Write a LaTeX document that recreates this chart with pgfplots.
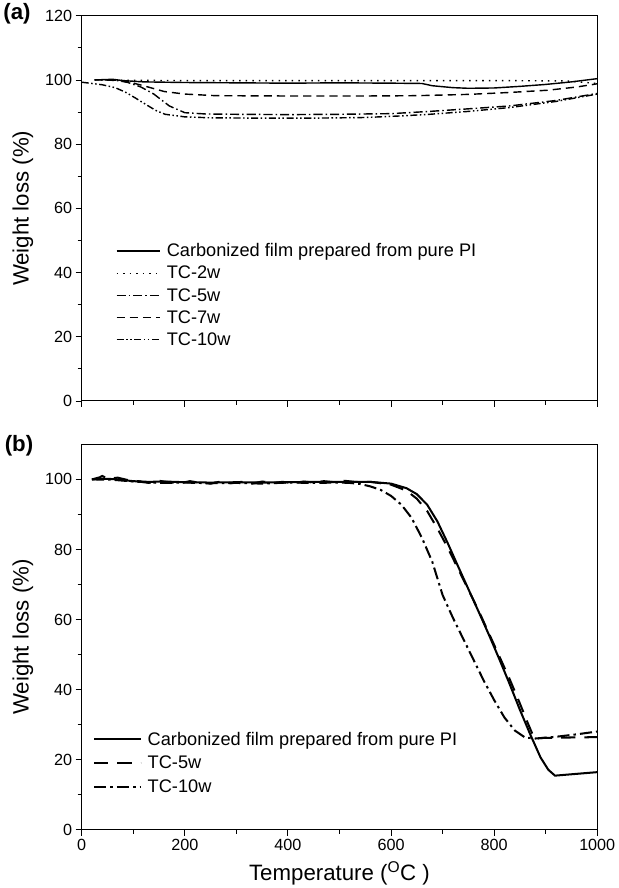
\documentclass[border=0pt]{standalone}
\usepackage{fontspec}
\setmainfont{Liberation Sans}
\usepackage{pgfplots}
\pgfplotsset{compat=1.18}

\pgfplotsset{
  tga/.style={
    scale only axis, width=510pt, height=381pt,
    xmin=0, xmax=1000,
    tick align=outside, xtick pos=bottom, ytick pos=left,
    minor x tick num=1, minor y tick num=1,
    major tick length=6pt, minor tick length=4pt,
    tick style={black, line width=0.8pt},
    axis line style={line width=1pt},
    /pgf/number format/assume math mode=true,
    /pgf/number format/1000 sep={},
    tick label style={font=\fontsize{16}{18}\selectfont},
    legend cell align=left,
    /tikz/every odd column/.append style={column sep=5pt},
    ylabel={Weight loss (\%)},
    ylabel style={at={(axis description cs:-0.114,0.5)}, anchor=center, font=\fontsize{22}{25}\selectfont},
  },
}

\begin{document}
\begin{tikzpicture}

% (a)
\begin{axis}[tga, at={(0,0)}, anchor=north west,
    ymin=0, ymax=120, ytick={0,20,...,120},
    xtick={0,200,...,1000}, xticklabels={},
    legend style={at={(axis cs:60,50)}, anchor=north west, draw=none, fill=none,
      font=\fontsize{18}{20}\selectfont, row sep=5.8pt,
      nodes={inner sep=1pt}},
    legend image code/.code={\draw[#1] (0pt,0pt) -- (43pt,0pt);},
  ]
  \addplot[black, line width=1.4pt] coordinates {
    (25,100) (60,100.2) (80,99.8) (120,99.4) (200,99.2) (300,99.1) (400,99.0) (500,99.1)
    (600,99.0) (660,98.9) (680,98.2) (720,97.6) (750,97.4) (800,97.5) (850,98.0)
    (900,98.6) (950,99.4) (1000,100.4)};
  \addlegendentry{Carbonized film prepared from pure PI}
  \addplot[black, line width=1.4pt, dash pattern=on 1.5pt off 5pt] coordinates {
    (25,100) (80,99.9) (200,99.8) (400,99.8) (600,99.8) (800,99.8) (940,99.7) (1000,98.9)};
  \addlegendentry{TC-2w}
  \addplot[black, line width=1.4pt, dash pattern=on 9pt off 3pt on 1.5pt off 3pt] coordinates {
    (45,100) (70,99.8) (90,99.2) (115,97.8) (140,95.6) (170,91.9) (200,89.8) (240,89.4)
    (300,89.3) (400,89.2) (500,89.3) (600,89.5) (675,90.2) (750,91.0) (830,91.9)
    (920,93.6) (1000,95.8)};
  \addlegendentry{TC-5w}
  \addplot[black, line width=1.4pt, dash pattern=on 8pt off 5pt] coordinates {
    (25,100) (60,100) (86,99.6) (120,98.2) (160,96.4) (200,95.6) (260,95.1) (400,95.0)
    (550,95.0) (650,95.1) (750,95.5) (830,96.1) (904,96.8) (960,97.8) (1000,98.8)};
  \addlegendentry{TC-7w}
  \addplot[black, line width=1.4pt, dash pattern=on 7pt off 2.5pt on 1.5pt off 2.5pt on 1.5pt off 2.5pt] coordinates {
    (0,99.3) (40,98.5) (65,97.6) (86,96.1) (105,94.3) (124,92.4) (145,90.4) (162,89.3)
    (200,88.5) (250,88.2) (350,88.1) (450,88.1) (550,88.3) (620,88.8) (675,89.3)
    (750,90.2) (830,91.4) (920,93.3) (1000,95.6)};
  \addlegendentry{TC-10w}
\end{axis}
\node[font=\bfseries\fontsize{22}{24}\selectfont, anchor=center] at (-64pt,2pt) {(a)};

% (b)
\begin{axis}[tga, at={(0,-424pt)}, anchor=north west,
    ymin=0, ymax=110, ytick={0,20,...,100},
    xtick={0,200,...,1000},
    xlabel={Temperature (\textsuperscript{O}C )},
    xlabel style={at={(axis description cs:0.5,-0.113)}, anchor=center, font=\fontsize{22}{25}\selectfont},
    legend style={at={(axis cs:16,28.8)}, anchor=north west, draw=none, fill=none,
      font=\fontsize{18}{20}\selectfont, row sep=7.3pt,
      nodes={inner sep=1pt}},
    legend image code/.code={\draw[#1] (0pt,0pt) -- (46pt,0pt);},
  ]
  \addplot[black, line width=2pt] coordinates {
    (20,100) (40,100.2) (60,100.1) (80,99.8) (100,99.5) (130,99.3) (160,99.4) (200,99.2)
    (250,99.1) (300,99.2) (350,99.1) (400,99.2) (450,99.3) (500,99.3) (560,99.3)
    (600,98.8) (630,97.5) (650,95.8) (670,92.8) (690,88.0) (710,81.8) (730,75.2)
    (750,68.7) (770,62.2) (790,55.6) (810,48.7) (830,41.6) (850,34.2) (870,27.2)
    (890,20.6) (905,17.1) (918,15.4) (1000,16.4)};
  \addlegendentry{Carbonized film prepared from pure PI}
  \addplot[black, line width=2pt, dash pattern=on 14pt off 9pt] coordinates {
    (20,100) (35,100.6) (40,101.0) (50,100.2) (70,100.5) (90,99.8) (110,99.5) (130,99.0)
    (150,99.6) (170,99.2) (190,98.9) (210,99.5) (230,99.0) (250,98.8) (270,99.4)
    (290,98.9) (310,99.3) (330,98.8) (350,99.4) (370,99.0) (390,99.3) (410,98.9)
    (430,99.4) (450,99.1) (470,99.5) (490,99.2) (510,99.6) (530,99.3) (560,99.3)
    (600,98.5) (630,96.8) (650,94.5) (670,91.0) (690,86.0) (710,80.5) (730,74.5)
    (750,68.5) (770,62.5) (790,56.0) (810,49.5) (830,43.0) (850,36.0) (865,30.5)
    (878,26.0) (900,26.2) (950,26.3) (1000,26.4)};
  \addlegendentry{TC-5w}
  \addplot[black, line width=2pt, dash pattern=on 12pt off 4pt on 2.5pt off 4pt] coordinates {
    (20,100) (60,99.9) (100,99.4) (150,99.0) (200,99.1) (250,98.9) (300,99.0) (350,98.8)
    (400,99.1) (450,99.0) (500,99.1) (520,99.0) (540,98.7) (560,98.0) (580,97.0)
    (600,95.3) (620,92.8) (640,89.0) (660,83.3) (680,76.5) (700,67.0) (720,60.5)
    (740,54.5) (760,48.5) (780,42.5) (800,37.0) (820,32.0) (840,28.3) (860,26.3)
    (880,26.0) (920,26.5) (960,27.2) (1000,28.0)};
  \addlegendentry{TC-10w}
\end{axis}
\node[font=\bfseries\fontsize{22}{24}\selectfont, anchor=center] at (-62pt,-425pt) {(b)};

\end{tikzpicture}
\end{document}
